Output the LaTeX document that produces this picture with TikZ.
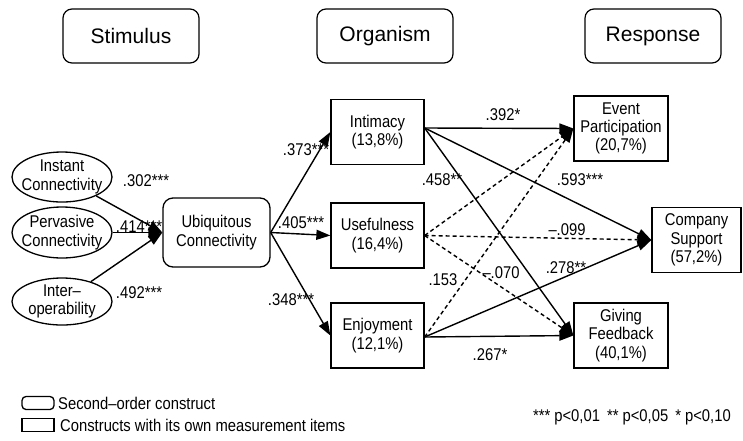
\documentclass[tikz,border=0pt]{standalone}
\usepackage{fontspec}
\setmainfont{Liberation Sans}
\newfontfamily\nfont[FakeStretch=0.87]{Liberation Sans}
\usetikzlibrary{arrows.meta,shapes.geometric}
\begin{document}
\begin{tikzpicture}[x=1pt,y=-1pt,
  head/.style={draw,rounded corners=9pt,line width=1.2pt,minimum width=136pt,minimum height=54pt,inner sep=0pt,font=\fontsize{21}{24}\selectfont},
  txt/.style={align=center,inner sep=0pt,font=\nfont\fontsize{17}{18.4}\selectfont},
  ell/.style={draw,ellipse,line width=1.3pt,minimum width=100pt,minimum height=50pt,inner sep=0pt},
  rbox/.style={draw,rounded corners=10pt,line width=1.3pt,minimum width=107pt,minimum height=69pt,txt},
  cbox/.style={draw,line width=1.3pt,minimum width=93pt,minimum height=65pt,txt},
  lab/.style={inner sep=0pt,font=\nfont\fontsize{17}{18}\selectfont},
  arr/.style={line width=1.4pt,-{Triangle[length=14pt,width=10pt]}},
  darr/.style={arr,dash pattern=on 4pt off 3pt}]
\useasboundingbox (0,0) rectangle (743,440);
% headers
\node[head] (stim) at (131,36) {Stimulus};
\node[head] (org) at (385,36) {Organism};
\node[head] (resp) at (653,36) {Response};
% stimulus
\node[ell,label={[txt]center:Instant\\Connectivity}] (inst) at (62,177) {};
\node[ell,minimum height=51pt,label={[txt]center:Pervasive\\Connectivity}] (perv) at (62,232.5) {};
\node[ell,minimum height=47pt,label={[txt]center:Inter–\\operability}] (inter) at (62,301.5) {};
\node[rbox] (ubi) at (216.5,232.5) {Ubiquitous\\Connectivity};
% organism
\node[cbox] (intim) at (377.5,132) {Intimacy\\(13,8\%)};
\node[cbox] (useful) at (377.5,235.5) {Usefulness\\(16,4\%)};
\node[cbox] (enjoy) at (377.5,335.5) {Enjoyment\\(12,1\%)};
% response
\node[cbox,minimum width=94pt] (event) at (621,128.5) {Event\\Participation\\(20,7\%)};
\node[cbox,minimum width=89pt] (comp) at (696.5,240) {Company\\Support\\(57,2\%)};
\node[cbox,minimum width=94pt] (feed) at (621,335.5) {Giving\\Feedback\\(40,1\%)};
% arrows stimulus
\draw[arr] (inst) -- (ubi.west);
\draw[arr] (perv.east) -- (ubi.west);
\draw[arr] (inter) -- (ubi.west);
\node[lab] at (146,181) {.302***};
\node[lab] at (139,227) {.414***};
\node[lab] at (139,293) {.492***};
% ubi to organism
\draw[arr] (ubi.east) -- (intim.west);
\draw[arr] (ubi.east) -- (useful.west);
\draw[arr] (ubi.east) -- (enjoy.west);
\node[lab] at (306,150) {.373***};
\node[lab] at (301,223) {.405***};
\node[lab] at (291,300) {.348***};
% intimacy
\draw[arr] ([yshift=4pt]intim.east) -- (event.west);
\draw[arr] ([yshift=4pt]intim.east) -- (comp.west);
\draw[arr] ([yshift=4pt]intim.east) -- (feed.west);
\node[lab] at (503,115) {.392*};
\node[lab] at (580,180) {.593***};
\node[lab] at (442,180) {.458**};
% usefulness
\draw[darr] (useful.east) -- (event.west);
\draw[darr] (useful.east) -- (comp.west);
\draw[darr] (useful.east) -- (feed.west);
\node[lab] at (567,230) {–.099};
\node[lab] at (501,273) {–.070};
% enjoyment
\draw[darr] ([yshift=-1.5pt]enjoy.east) -- (event.west);
\draw[arr] ([yshift=-1.5pt]enjoy.east) -- (comp.west);
\draw[arr] ([yshift=-1.5pt]enjoy.east) -- (feed.west);
\node[lab] at (443,280) {.153};
\node[lab] at (566,268) {.278**};
\node[lab] at (490,355) {.267*};
% legend
\node[draw,rounded corners=4pt,line width=1.3pt,minimum width=32pt,minimum height=13pt,inner sep=0pt] (lg1) at (38,403) {};
\node[lab,anchor=west] (lt1) at (58,403) {Second–order construct};
\node[draw,line width=1.3pt,minimum width=32pt,minimum height=13pt,inner sep=0pt] (lg2) at (38,425) {};
\node[lab,anchor=west] (lt2) at (60,425) {Constructs with its own measurement items};
\node[lab,anchor=east] (pv) at (731,417) {*** p<0,01\hspace{7pt}** p<0,05\hspace{7pt}* p<0,10};
\end{tikzpicture}
\end{document}
